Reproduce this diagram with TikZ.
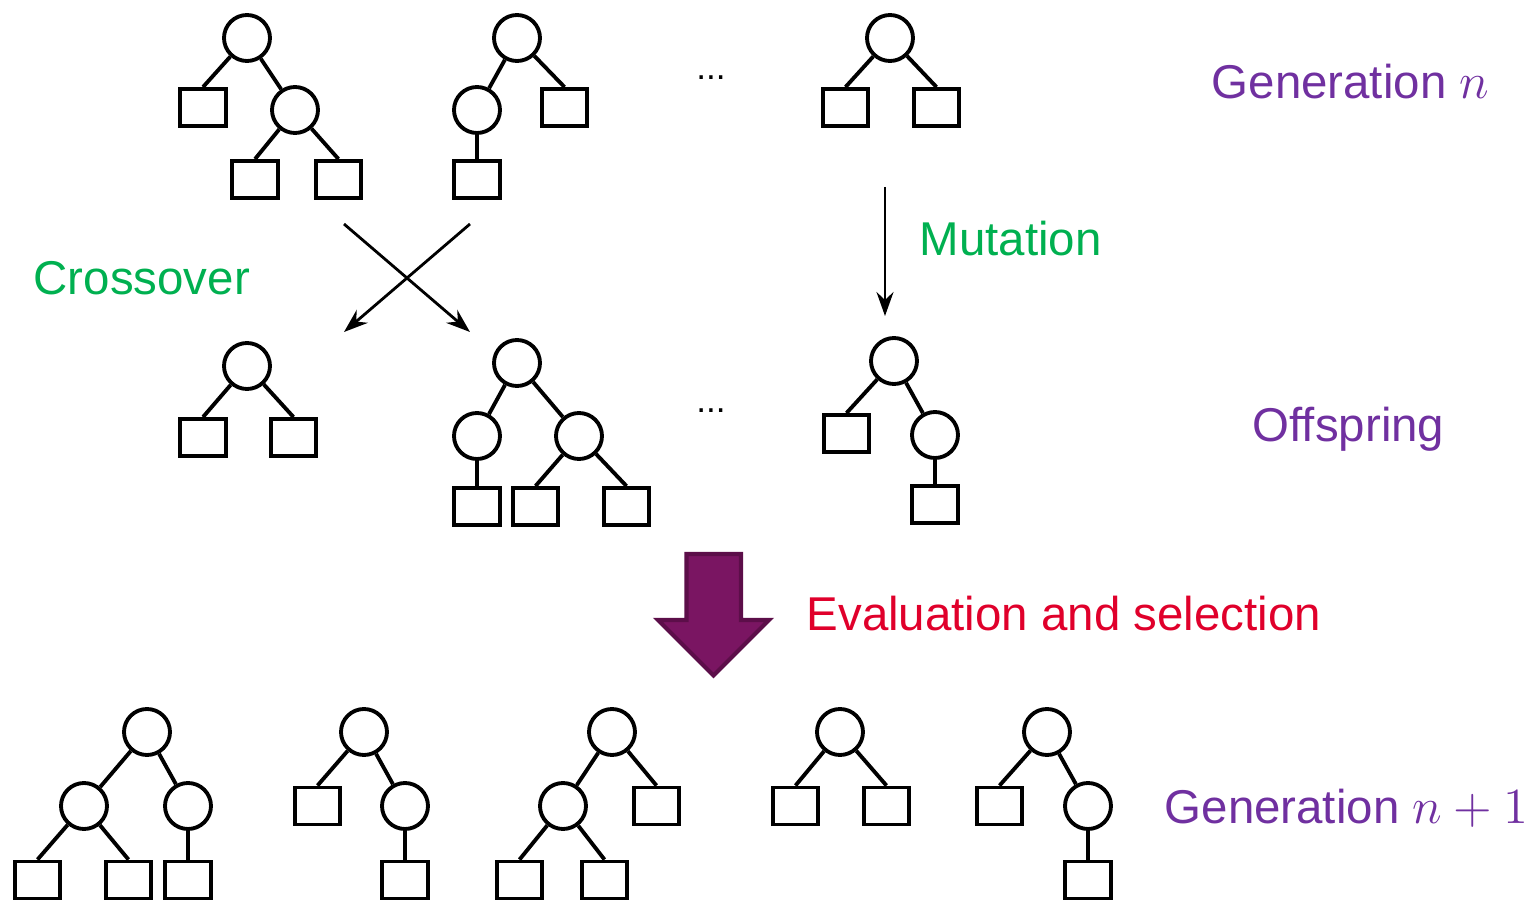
\documentclass[tikz,border=0pt]{standalone}
\usepackage{fontspec}
\setmainfont{Liberation Sans}
\usepackage{xcolor}
\usetikzlibrary{arrows,arrows.meta}
\usetikzlibrary{calc}
\definecolor{gen_purple}{HTML}{7030A0}
\definecolor{op_green}{HTML}{00B050}
\definecolor{eval_red}{HTML}{E0002B}
\definecolor{big_fill}{HTML}{7A1562}
\definecolor{big_edge}{HTML}{5C0E49}
\begin{document}
\begin{tikzpicture}[y=-1cm, inner_node/.style={circle,draw,line width=1.1pt,minimum size=0.46cm,inner sep=0pt}, leaf_node/.style={rectangle,draw,line width=1.1pt,minimum width=0.455cm,minimum height=0.37cm,inner sep=0pt}, label_text/.style={font=\fontsize{13.5}{16}\selectfont,anchor=base west,inner sep=0pt}, dots_text/.style={font=\fontsize{10}{12}\selectfont,anchor=base,inner sep=0pt}, op_arrow/.style={-{Stealth[length=2.4mm,width=1.7mm,inset=0.8mm]},line width=0.8pt}]
				\useasboundingbox (0,0) rectangle (15.29,9.01);
				% generation n
				\node[inner_node](1) at (2.47,0.38){};
				\node[leaf_node](1a) at (2.03,1.075){};
				\node[inner_node](1b) at (2.95,1.10){};
				\node[leaf_node](1ba) at (2.55,1.795){};
				\node[leaf_node](1bb) at (3.385,1.795){};
				\node[inner_node](2) at (5.17,0.38){};
				\node[inner_node](2a) at (4.77,1.10){};
				\node[leaf_node](2b) at (5.645,1.075){};
				\node[leaf_node](2aa) at (4.77,1.795){};
				\node[dots_text](d1) at (7.11,0.80){...};
				\node[inner_node](3) at (8.90,0.38){};
				\node[leaf_node](3a) at (8.455,1.075){};
				\node[leaf_node](3b) at (9.365,1.075){};
				\path[line width=1.1pt]
				(1) edge (1a.north)
				(1) edge (1b)
				(1b) edge (1ba.north)
				(1b) edge (1bb.north)
				(2) edge (2a)
				(2) edge (2b.north)
				(2a) edge (2aa)
				(3) edge (3a.north)
				(3) edge (3b.north);
				% offspring
				\node[inner_node](4) at (2.47,3.66){};
				\node[leaf_node](4a) at (2.03,4.375){};
				\node[leaf_node](4b) at (2.935,4.375){};
				\node[inner_node](5) at (5.17,3.63){};
				\node[inner_node](5a) at (4.77,4.36){};
				\node[inner_node](5b) at (5.79,4.36){};
				\node[leaf_node](5aa) at (4.77,5.065){};
				\node[leaf_node](5ba) at (5.355,5.065){};
				\node[leaf_node](5bb) at (6.265,5.065){};
				\node[dots_text](d2) at (7.11,4.13){...};
				\node[inner_node](6) at (8.94,3.61){};
				\node[leaf_node](6a) at (8.465,4.335){};
				\node[inner_node](6b) at (9.35,4.35){};
				\node[leaf_node](6ba) at (9.35,5.045){};
				\path[line width=1.1pt]
				(4) edge (4a.north)
				(4) edge (4b.north)
				(5) edge (5a)
				(5) edge (5b)
				(5a) edge (5aa)
				(5b) edge (5ba.north)
				(5b) edge (5bb.north)
				(6) edge (6a.north)
				(6) edge (6b)
				(6b) edge (6ba);
				% generation n+1
				\node[inner_node](7) at (1.47,7.32){};
				\node[inner_node](7a) at (0.84,8.06){};
				\node[inner_node](7b) at (1.88,8.06){};
				\node[leaf_node](7aa) at (0.375,8.80){};
				\node[leaf_node](7ab) at (1.285,8.80){};
				\node[leaf_node](7ba) at (1.88,8.80){};
				\node[inner_node](8) at (3.64,7.32){};
				\node[leaf_node](8a) at (3.175,8.06){};
				\node[inner_node](8b) at (4.05,8.06){};
				\node[leaf_node](8ba) at (4.05,8.80){};
				\node[inner_node](9) at (6.12,7.32){};
				\node[inner_node](9a) at (5.63,8.06){};
				\node[leaf_node](9b) at (6.565,8.06){};
				\node[leaf_node](9aa) at (5.195,8.80){};
				\node[leaf_node](9ab) at (6.045,8.80){};
				\node[inner_node](10) at (8.40,7.32){};
				\node[leaf_node](10a) at (7.955,8.06){};
				\node[leaf_node](10b) at (8.865,8.06){};
				\node[inner_node](11) at (10.47,7.32){};
				\node[leaf_node](11a) at (9.995,8.06){};
				\node[inner_node](11b) at (10.88,8.06){};
				\node[leaf_node](11ba) at (10.88,8.80){};
				\path[line width=1.1pt]
				(7) edge (7a)
				(7) edge (7b)
				(7a) edge (7aa.north)
				(7a) edge (7ab.north)
				(7b) edge (7ba)
				(8) edge (8a.north)
				(8) edge (8b)
				(8b) edge (8ba)
				(9) edge (9a)
				(9) edge (9b.north)
				(9a) edge (9aa.north)
				(9a) edge (9ab.north)
				(10) edge (10a.north)
				(10) edge (10b.north)
				(11) edge (11a.north)
				(11) edge (11b)
				(11b) edge (11ba);
				% operators
				\coordinate (xa) at (3.44,2.24);
				\coordinate (xb) at (4.70,2.24);
				\coordinate (xc) at (3.44,3.32);
				\coordinate (xd) at (4.70,3.32);
				\coordinate (ma) at (8.85,1.87);
				\coordinate (mb) at (8.85,3.16);
				\draw[op_arrow] (xa) -- (xd);
				\draw[op_arrow] (xb) -- (xc);
				\draw[op_arrow] (ma) -- (mb);
				\draw[fill=big_fill,draw=big_edge,line width=1.2pt] (6.865,5.54) -- (7.41,5.54) -- (7.41,6.20) -- (7.69,6.20) -- (7.135,6.755) -- (6.58,6.20) -- (6.865,6.20) -- cycle;
				% labels
				\node[label_text,text=gen_purple](gen) at (12.11,0.99){Generation $n$};
				\node[label_text,text=gen_purple](off) at (12.52,4.41){Offspring};
				\node[label_text,text=gen_purple](gennext) at (11.64,8.23){Generation $n+1$};
				\node[label_text,text=op_green](cross) at (0.33,2.95){Crossover};
				\node[label_text,text=op_green](mut) at (9.19,2.56){Mutation};
				\node[label_text,text=eval_red](eval) at (8.06,6.31){Evaluation and selection};
			\end{tikzpicture}
\end{document}
